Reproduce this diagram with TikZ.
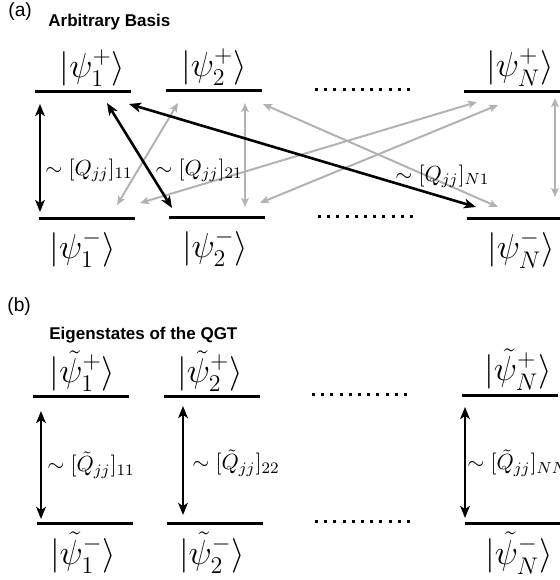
\documentclass[tikz,border=0pt]{standalone}
\usepackage{amsmath}
\usepackage{fontspec}
\newfontfamily\helv{Liberation Sans}
\usetikzlibrary{arrows.meta,positioning}

\begin{document}
\begin{tikzpicture}[x=0.5pt,y=-0.5pt,
  bar/.style={fill=black,inner sep=0pt,minimum height=1.5pt,minimum width=48pt},
  dotrow/.style={line width=1.5pt,dash pattern=on 1.5pt off 3.1pt},
  ket/.style={inner sep=0pt,font=\LARGE},
  amp/.style={inner sep=0pt,anchor=west,font=\fontsize{11}{13}\selectfont},
  darr/.style={{Stealth[length=6pt,width=4.8pt,inset=1.5pt]}-{Stealth[length=6pt,width=4.8pt,inset=1.5pt]},line width=1.3pt},
  garr/.style={{Stealth[length=4.5pt,width=3.8pt,inset=1pt]}-{Stealth[length=4.5pt,width=3.8pt,inset=1pt]},line width=1pt,draw=gray!60,fill=gray!75},
  ttl/.style={inner sep=0pt,anchor=base west,font=\helv\bfseries\fontsize{8.5}{10}\selectfont},
  tag/.style={inner sep=0pt,anchor=base west,font=\helv\fontsize{9.6}{11}\selectfont}
]
\useasboundingbox (0,0) rectangle (560,580);

% (a) arbitrary basis
\node[tag] (taga) at (8,16) {(a)};
\node[ttl] (ttla) at (48,26) {Arbitrary Basis};

\node[bar] (a1p) at (82.5,91) {};
\node[bar] (a2p) at (214,90) {};
\node[bar] (aNp) at (512,91) {};
\node[bar] (a1m) at (86.5,218) {};
\node[bar] (a2m) at (217,217) {};
\node[bar] (aNm) at (515,218) {};
\draw[dotrow] (315,89) -- (410,89);
\draw[dotrow] (318,216) -- (413,216);

\node[ket,above=1pt of a1p,xshift=5pt] (ka1p) {$|\psi_1^+\rangle$};
\node[ket,above=1pt of a2p] (ka2p) {$|\psi_2^+\rangle$};
\node[ket,above=1pt of aNp,xshift=4pt] (kaNp) {$|\psi_N^+\rangle$};
\node[ket,below=5pt of a1m,xshift=-2pt] (ka1m) {$|\psi_1^-\rangle$};
\node[ket,below=5pt of a2m,xshift=-1pt] (ka2m) {$|\psi_2^-\rangle$};
\node[ket,below=5pt of aNm,xshift=3pt] (kaNm) {$|\psi_N^-\rangle$};

\coordinate (g12u) at (178,103);  \coordinate (g12d) at (117,205);
\coordinate (g22u) at (245,103);  \coordinate (g22d) at (245,207);
\coordinate (gN1u) at (477,102);  \coordinate (gN1d) at (140,203);
\coordinate (gN2u) at (498,105);  \coordinate (gN2d) at (260,203);
\coordinate (g2Nu) at (263,104);  \coordinate (g2Nd) at (498,207);
\coordinate (gNNu) at (555,98);   \coordinate (gNNd) at (555,197);
\draw[garr] (g12d) -- (g12u);
\draw[garr] (g22d) -- (g22u);
\draw[garr] (gN1d) -- (gN1u);
\draw[garr] (gN2d) -- (gN2u);
\draw[garr] (g2Nu) -- (g2Nd);
\draw[garr] (gNNu) -- (gNNd);

\coordinate (q11u) at (40,104);   \coordinate (q11d) at (40,212);
\coordinate (q21u) at (107,103);  \coordinate (q21d) at (172,208);
\coordinate (qN1u) at (129,104);  \coordinate (qN1d) at (476,207);
\draw[darr] (q11u) -- (q11d);
\draw[darr] (q21u) -- (q21d);
\draw[darr] (qN1u) -- (qN1d);
\node[amp] (la11) at (45,170) {$\sim[Q_{jj}]_{11}$};
\node[amp] (la21) at (155,170) {$\sim[Q_{jj}]_{21}$};
\node[amp] (laN1) at (395,176) {$\sim[Q_{jj}]_{N1}$};

% (b) eigenstates of the QGT
\node[tag] (tagb) at (7,311) {(b)};
\node[ttl] (ttlb) at (49,339) {Eigenstates of the QGT};

\node[bar] (b1p) at (80.5,396) {};
\node[bar] (b2p) at (212,396) {};
\node[bar] (bNp) at (510,395) {};
\node[bar] (b1m) at (85,523) {};
\node[bar] (b2m) at (215,523) {};
\node[bar] (bNm) at (513,523) {};
\draw[dotrow] (312,394) -- (407,394);
\draw[dotrow] (315,521) -- (410,521);

\node[ket,above=1pt of b1p,xshift=1pt] (kb1p) {$|\tilde{\psi}_1^+\rangle$};
\node[ket,above=1pt of b2p,xshift=-1pt] (kb2p) {$|\tilde{\psi}_2^+\rangle$};
\node[ket,above=1pt of bNp,xshift=4pt] (kbNp) {$|\tilde{\psi}_N^+\rangle$};
\node[ket,below=3.5pt of b1m,xshift=-1pt] (kb1m) {$|\tilde{\psi}_1^-\rangle$};
\node[ket,below=3.5pt of b2m,xshift=-1.5pt] (kb2m) {$|\tilde{\psi}_2^-\rangle$};
\node[ket,below=3.5pt of bNm,xshift=3pt] (kbNm) {$|\tilde{\psi}_N^-\rangle$};

\coordinate (r11u) at (41,411);   \coordinate (r11d) at (41,519);
\coordinate (r22u) at (183,406);  \coordinate (r22d) at (183,515);
\coordinate (rNNu) at (465,407);  \coordinate (rNNd) at (465,518);
\draw[darr] (r11u) -- (r11d);
\draw[darr] (r22u) -- (r22d);
\draw[darr] (rNNu) -- (rNNd);
\node[amp] (lb11) at (47,465) {$\sim[\tilde{Q}_{jj}]_{11}$};
\node[amp] (lb22) at (192,463) {$\sim[\tilde{Q}_{jj}]_{22}$};
\node[amp] (lbNN) at (467,463) {$\sim[\tilde{Q}_{jj}]_{NN}$};
\end{tikzpicture}
\end{document}
